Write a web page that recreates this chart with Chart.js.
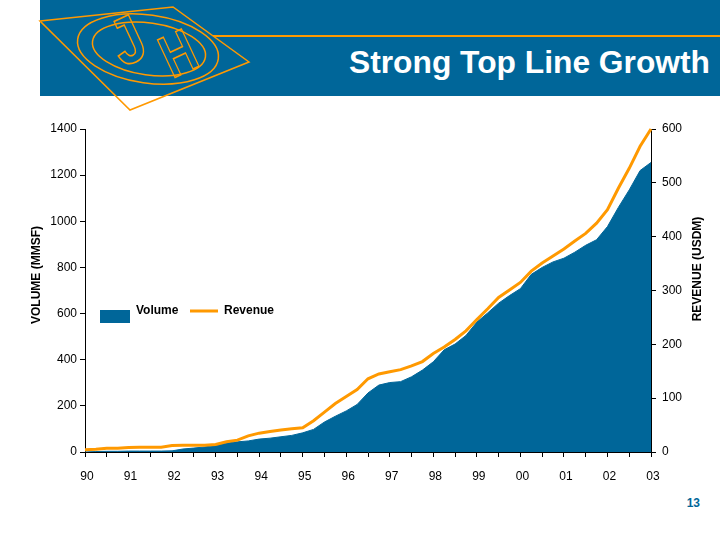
<!DOCTYPE html>
<html>
<head>
<meta charset="utf-8">
<script src="https://cdn.jsdelivr.net/npm/chart.js@4.4.1/dist/chart.umd.min.js"></script>
<style>
  body { margin: 0; background: #fff; }
  #page { position: relative; width: 720px; height: 540px; overflow: hidden; font-family: "Liberation Sans", Arial, sans-serif; }
  #band { position: absolute; left: 40px; top: 0; width: 680px; height: 96px; background: #006699; }
  #deco { position: absolute; left: 0; top: 0; }
  #chartBox { position: absolute; left: 0; top: 100px; width: 720px; height: 400px; }
</style>
</head>
<body>
<div id="page">
  <div id="band"></div>
  <svg id="deco" width="720" height="540" xmlns="http://www.w3.org/2000/svg">
    <g fill="none" stroke="#FF9900" stroke-width="1.5">
      <polygon points="40,21 173,7 249,62 130,110"/>
      <line x1="213" y1="36" x2="720" y2="36" stroke-width="2"/>
      <ellipse cx="148" cy="49" rx="71" ry="34" transform="rotate(8 148 49)"/>
      <ellipse cx="149" cy="49" rx="57" ry="26" transform="rotate(8 149 49)"/>
    </g>
    <g fill="none" stroke="#FF9900" stroke-width="1.6" font-family="Liberation Sans, Arial, sans-serif" font-weight="bold">
      <text x="0" y="0" font-size="66" text-anchor="middle" transform="translate(137 61) rotate(-25) scale(0.85 1)">J</text>
      <text x="0" y="0" font-size="60" text-anchor="middle" transform="translate(187 72) rotate(-25) scale(0.75 1)">H</text>
    </g>
    <text x="349" y="73" textLength="361" lengthAdjust="spacingAndGlyphs" fill="#fff" font-family="Liberation Sans, Arial, sans-serif" font-weight="bold" font-size="31">Strong Top Line Growth</text>
    <text x="700" y="507" text-anchor="end" fill="#006699" font-family="Liberation Sans, Arial, sans-serif" font-weight="bold" font-size="12">13</text>
  </svg>
  <div id="chartBox"><canvas id="chartGrowth" width="720" height="400"></canvas></div>
</div>
<script>
// quarterly readings, 1990.00 .. 2003.00
var volume = [
  0, 2, 3, 3,
  4, 4, 4, 4,
  5, 13, 17, 22,
  28, 39, 44, 48,
  56, 60, 66, 72,
  83, 98, 130, 155,
  178, 206, 256, 290,
  301, 305, 326, 355,
  391, 443, 468, 505,
  563, 603, 645, 678,
  708, 770, 800, 824,
  840, 866, 896, 920,
  977, 1060, 1136, 1220,
  1255
];
var revenue = [
  4, 5, 7, 7,
  8.5, 9, 9, 9,
  12, 12.5, 12.5, 12.5,
  14, 19, 22, 30,
  35, 38, 41, 43,
  45, 58, 74, 90,
  103, 116, 136, 145,
  149, 153, 160, 168,
  183, 195, 209, 225,
  246, 266, 287, 301,
  315, 336, 351, 364,
  377, 392, 406, 425,
  450, 490, 527, 568,
  600
];
var yearLabels = ['90', '91', '92', '93', '94', '95', '96', '97', '98', '99', '00', '01', '02', '03'];
var periods = volume.map(function (v, i) { return 1990 + i / 4; });

var blue = '#006699';
var orange = '#FF9900';
var font = '"Liberation Sans", Arial, sans-serif';

// legend inside the plot and the two rotated axis titles
var extras = {
  id: 'extras',
  afterDraw: function (chart) {
    var ctx = chart.ctx;
    var ds = chart.data.datasets;
    ctx.save();
    ctx.fillStyle = '#000';
    ctx.font = 'bold 12px ' + font;
    ctx.textBaseline = 'alphabetic';
    // Volume
    ctx.fillStyle = ds[1].backgroundColor;
    ctx.fillRect(100, 210, 30, 13);
    ctx.fillStyle = '#000';
    ctx.fillText(ds[1].label, 136, 214);
    // Revenue
    ctx.strokeStyle = ds[0].borderColor;
    ctx.lineWidth = 3;
    ctx.beginPath();
    ctx.moveTo(190, 211);
    ctx.lineTo(218, 211);
    ctx.stroke();
    ctx.fillText(ds[0].label, 224, 214);
    // axis titles
    ctx.textAlign = 'center';
    ctx.textBaseline = 'middle';
    ctx.translate(37, 175);
    ctx.rotate(-Math.PI / 2);
    ctx.fillText('VOLUME (MMSF)', 0, 0);
    ctx.rotate(Math.PI / 2);
    ctx.translate(698 - 37, 169 - 175);
    ctx.rotate(-Math.PI / 2);
    ctx.fillText('REVENUE (USDM)', 0, 0);
    ctx.restore();
  }
};

function plain(v) { return String(v); }

var ctx1 = document.getElementById('chartGrowth').getContext('2d');
var chart1 = new Chart(ctx1, {
  type: 'line',
  data: {
    datasets: [{
        label: 'Revenue',
        yAxisID: 'y1',
        borderColor: orange,
        backgroundColor: orange,
        borderWidth: 3,
        pointRadius: 0,
        fill: false,
        clip: 4,
        order: 0,
        data: periods.map(function (p, i) { return { x: p, y: revenue[i] }; })
    },
    {
        label: 'Volume',
        yAxisID: 'y',
        borderColor: blue,
        backgroundColor: blue,
        borderWidth: 1,
        pointRadius: 0,
        fill: 'origin',
        order: 1,
        data: periods.map(function (p, i) { return { x: p, y: volume[i] }; })
    }]
  },
  options: {
    responsive: false,
    animation: false,
    layout: { padding: { top: 29, left: 0, right: 0, bottom: 0 } },
    plugins: { legend: { display: false }, tooltip: { enabled: false } },
    scales: {
      x: {
        type: 'linear',
        min: 1990,
        max: 2003,
        afterFit: function (s) { s.height = 48; },
        grid: { drawOnChartArea: false, tickLength: 5, color: '#000' },
        border: { color: '#000', width: 1 },
        ticks: {
          stepSize: 0.5,
          autoSkip: false,
          maxRotation: 0,
          padding: 12,
          labelOffset: 2,
          color: '#000',
          font: { family: font, size: 12 },
          callback: function (v) {
            return Number.isInteger(v) ? yearLabels[v - 1990] : '';
          }
        }
      },
      y: {
        position: 'left',
        min: 0,
        max: 1400,
        afterFit: function (s) { s.width = 85; },
        grid: { drawOnChartArea: false, tickLength: 5, color: '#000' },
        border: { color: '#000', width: 1 },
        ticks: { stepSize: 200, padding: 3, color: '#000', font: { family: font, size: 12 }, callback: plain }
      },
      y1: {
        position: 'right',
        min: 0,
        max: 600,
        afterFit: function (s) { s.width = 69; },
        grid: { drawOnChartArea: false, tickLength: 5, color: '#000' },
        border: { color: '#000', width: 1 },
        ticks: { stepSize: 100, padding: 6, color: '#000', font: { family: font, size: 12 }, callback: plain }
      }
    }
  },
  plugins: [extras]
});
</script>
</body>
</html>
